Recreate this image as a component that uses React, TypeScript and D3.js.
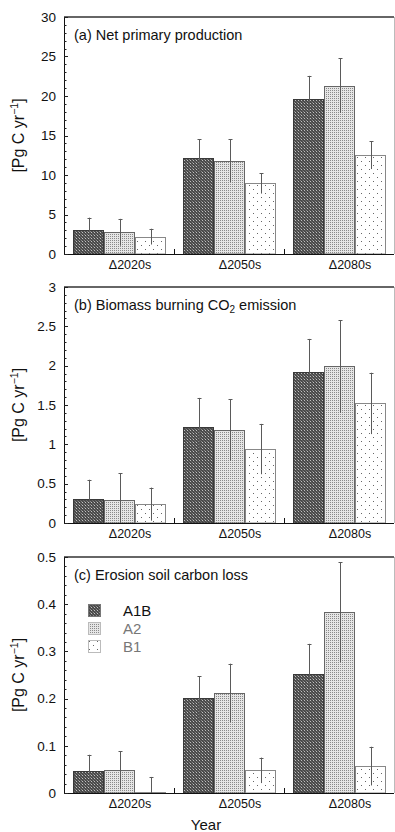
import React from "react";
import * as d3 from "d3";

// Scenario groups and series
const periods = ["Δ2020s", "Δ2050s", "Δ2080s"];
const scenarios = ["A1B", "A2", "B1"];

// (a) Net primary production [Pg C / yr]
const nppA1B = [3.1, 12.1, 19.6];
const nppA2 = [2.75, 11.8, 21.3];
const nppB1 = [2.2, 8.95, 12.5];
const nppErrA1B = [1.5, 2.45, 2.95];
const nppErrA2 = [1.7, 2.7, 3.45];
const nppErrB1 = [1.0, 1.3, 1.75];

// (b) Biomass burning CO2 emission [Pg C / yr]
const fireA1B = [0.31, 1.22, 1.92];
const fireA2 = [0.29, 1.18, 1.99];
const fireB1 = [0.24, 0.94, 1.52];
const fireErrA1B = [0.24, 0.37, 0.42];
const fireErrA2 = [0.34, 0.39, 0.59];
const fireErrB1 = [0.21, 0.32, 0.39];

// (c) Erosion soil carbon loss [Pg C / yr]
const erosA1B = [0.047, 0.201, 0.253];
const erosA2 = [0.048, 0.212, 0.383];
const erosB1 = [0.002, 0.048, 0.057];
const erosErrA1B = [0.034, 0.046, 0.063];
const erosErrA2 = [0.04, 0.062, 0.106];
const erosErrB1 = [0.032, 0.027, 0.041];

const yTicksA = [0, 5, 10, 15, 20, 25, 30];
const yTicksB = [0, 0.5, 1, 1.5, 2, 2.5, 3];
const yTicksC = [0, 0.1, 0.2, 0.3, 0.4, 0.5];

const FONT = "'Liberation Sans', Arial, sans-serif";
const LEFT = 64;
const RIGHT = 394;

const fills: Record<string, string> = { A1B: "url(#patA1B)", A2: "url(#patA2)", B1: "url(#patB1)" };
const strokes: Record<string, string> = { A1B: "#3a3a3a", A2: "#666", B1: "#888" };

type Panel = {
  key: string;
  top: number;
  bottom: number;
  max: number;
  ticks: number[];
  minor: number;
  values: number[][];
  errors: number[][];
};

const panels: Panel[] = [
  { key: "a", top: 17, bottom: 254, max: 30, ticks: yTicksA, minor: 1,
    values: [nppA1B, nppA2, nppB1], errors: [nppErrA1B, nppErrA2, nppErrB1] },
  { key: "b", top: 287, bottom: 523, max: 3, ticks: yTicksB, minor: 0.1,
    values: [fireA1B, fireA2, fireB1], errors: [fireErrA1B, fireErrA2, fireErrB1] },
  { key: "c", top: 557, bottom: 793, max: 0.5, ticks: yTicksC, minor: 0.02,
    values: [erosA1B, erosA2, erosB1], errors: [erosErrA1B, erosErrA2, erosErrB1] },
];

function PanelTitle({ k, y }: { k: string; y: number }) {
  const common = { x: 74, y, fontSize: 14.5, fontFamily: FONT, fill: "#111" };
  if (k === "a") return <text {...common}>(a) Net primary production</text>;
  if (k === "b")
    return (
      <text {...common}>
        (b) Biomass burning CO
        <tspan fontSize={10} dy={3}>2</tspan>
        <tspan dy={-3}> emission</tspan>
      </text>
    );
  return <text {...common}>(c) Erosion soil carbon loss</text>;
}

function ChartPanel({ p }: { p: Panel }) {
  const x = d3.scaleBand<string>().domain(periods).range([LEFT, RIGHT]).padding(0);
  const bw = x.bandwidth();
  const inner = d3.scaleBand<string>().domain(scenarios).range([9, 9 + 93]).padding(0);
  const y = d3.scaleLinear().domain([0, p.max]).range([p.bottom, p.top]);
  const minorTicks = d3.range(0, p.max + p.minor / 2, p.minor);
  const fmt = (v: number) => d3.format("~g")(+v.toFixed(3));

  return (
    <g>
      {/* bars */}
      {scenarios.map((s, si) =>
        periods.map((g, gi) => {
          const v = p.values[si][gi];
          const x0 = (x(g) ?? 0) + (inner(s) ?? 0);
          const yTop = y(v);
          return (
            <rect
              key={s + g}
              x={Math.round(x0) + 0.5}
              y={Math.round(yTop) + 0.5}
              width={Math.round(inner.bandwidth()) - 1}
              height={Math.max(0.5, Math.round(p.bottom - yTop) - 0.5)}
              fill={fills[s]}
              stroke={strokes[s]}
              strokeWidth={1}
            />
          );
        })
      )}
      {/* error bars */}
      {scenarios.map((s, si) =>
        periods.map((g, gi) => {
          const v = p.values[si][gi];
          const e = p.errors[si][gi];
          const cx = Math.round((x(g) ?? 0) + (inner(s) ?? 0) + inner.bandwidth() / 2) + 0.5;
          const y1 = y(v + e);
          const y2 = y(Math.max(0, v - e));
          return (
            <g key={"e" + s + g} stroke="#5a5a5a" strokeWidth={1}>
              <line x1={cx} x2={cx} y1={y1} y2={y2} />
              <line x1={cx - 2} x2={cx + 2} y1={Math.round(y1) + 0.5} y2={Math.round(y1) + 0.5} />
            </g>
          );
        })
      )}
      {/* frame */}
      <line x1={LEFT} x2={RIGHT} y1={p.top} y2={p.top} stroke="#333" strokeWidth={1.5} />
      <line x1={RIGHT + 0.5} x2={RIGHT + 0.5} y1={p.top} y2={p.bottom} stroke="#bbb" strokeWidth={1} />
      <line x1={LEFT + 0.5} x2={LEFT + 0.5} y1={p.top} y2={p.bottom + 0.5} stroke="#111" strokeWidth={1} />
      <line x1={LEFT} x2={RIGHT} y1={p.bottom + 0.5} y2={p.bottom + 0.5} stroke="#111" strokeWidth={1} />
      {/* y ticks */}
      {minorTicks.map((t, i) => {
        const isMajor = p.ticks.some((m) => Math.abs(m - t) < p.minor / 10);
        const yy = Math.round(y(t)) + 0.5;
        return <line key={"m" + i} x1={LEFT} x2={LEFT + (isMajor ? 4 : 2.5)} y1={yy} y2={yy} stroke="#222" />;
      })}
      {p.ticks.map((t) => (
        <text key={"t" + t} x={56} y={y(t)} dy="0.35em" textAnchor="end" fontSize={13.5} fontFamily={FONT} fill="#111">
          {fmt(t)}
        </text>
      ))}
      {/* x boundary ticks */}
      {periods.slice(1).map((g) => {
        const xx = Math.round(x(g) ?? 0) + 0.5;
        return <line key={"xb" + g} x1={xx} x2={xx} y1={p.bottom} y2={p.bottom - 5} stroke="#111" />;
      })}
      {/* x labels */}
      {periods.map((g) => (
        <text key={"xl" + g} x={(x(g) ?? 0) + bw / 2 + 11} y={p.bottom + 15} textAnchor="middle" fontSize={12.5} fontFamily={FONT} fill="#111">
          {g}
        </text>
      ))}
      <PanelTitle k={p.key} y={p.top + 23} />
      {/* y axis label */}
      <text
        transform={`translate(24,${(p.top + p.bottom) / 2}) rotate(-90)`}
        textAnchor="middle"
        fontSize={16}
        fontFamily={FONT}
        fill="#111"
      >
        [Pg C  yr
        <tspan fontSize={10.5} dy={-6}>−1</tspan>
        <tspan dy={6}>]</tspan>
      </text>
    </g>
  );
}

export default function App() {
  const legendY = d3.scaleBand<string>().domain(scenarios).range([604, 658]);
  const legendColors: Record<string, string> = { A1B: "#111", A2: "#777", B1: "#777" };
  return (
    <svg width={395} height={832} style={{ position: "absolute", left: 0, top: 0, background: "#fff" }}>
      <defs>
        <pattern id="patA1B" width={3} height={3} patternUnits="userSpaceOnUse">
          <rect width={3} height={3} fill="#4a4a4a" />
          <rect x={1} y={1} width={1} height={1} fill="#c0c0c0" />
          <rect x={0} y={0} width={1} height={1} fill="#888" />
          <rect x={2} y={2} width={1} height={1} fill="#666" />
        </pattern>
        <pattern id="patA2" width={2} height={2} patternUnits="userSpaceOnUse">
          <rect width={2} height={2} fill="#e6e6e6" />
          <rect x={0} y={0} width={1} height={1} fill="#8a8a8a" />
        </pattern>
        <pattern id="patB1" width={8} height={8} patternUnits="userSpaceOnUse">
          <rect width={8} height={8} fill="#fff" />
          <rect x={1} y={1} width={1} height={1} fill="#666" />
          <rect x={5} y={5} width={1} height={1} fill="#666" />
        </pattern>
      </defs>
      <rect width={395} height={832} fill="#fff" />
      {panels.map((p) => (
        <ChartPanel key={p.key} p={p} />
      ))}
      {/* legend */}
      {scenarios.map((s) => {
        const yy = legendY(s) ?? 0;
        return (
          <g key={"lg" + s}>
            <rect x={88.5} y={yy + 0.5} width={12} height={12} fill={fills[s]} stroke={s === "A1B" ? "#777" : "#bbb"} />
            <text x={123} y={yy + 12} fontSize={15} fontFamily={FONT} fill={legendColors[s]}>
              {s}
            </text>
          </g>
        );
      })}
      <text x={206} y={830} textAnchor="middle" fontSize={15} fontFamily={FONT} fill="#111">
        Year
      </text>
    </svg>
  );
}
